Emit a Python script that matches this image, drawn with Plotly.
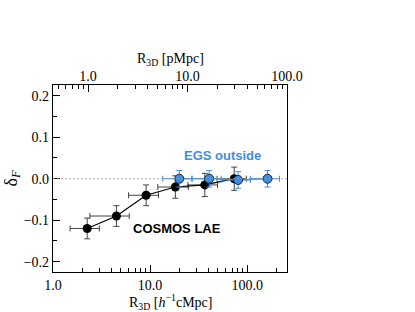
import plotly.graph_objects as go
import numpy as np

# COSMOS LAE
cos_x = [2.25, 4.5, 9.1, 18.2, 36.6, 73.5]
cos_x_lo = [1.5, 2.4, 6.0, 12.0, 24.5, 49.0]
cos_x_hi = [3.0, 6.1, 12.2, 24.8, 49.5, 98.0]
cos_y = [-0.12, -0.09, -0.04, -0.02, -0.015, 0.0]
cos_yerr = [0.025, 0.025, 0.025, 0.027, 0.028, 0.028]

# EGS outside
egs_x = [20.0, 40.6, 80.7, 162.0]
egs_x_lo = [13.5, 27.0, 54.0, 108.0]
egs_x_hi = [27.0, 54.0, 108.0, 215.0]
egs_y = [0.0, 0.0, -0.003, 0.0]
egs_yerr = [0.02, 0.02, 0.02, 0.02]

xticks = [1, 10, 100]
xticklabels = ["1.0", "10.0", "100.0"]
yticks = [-0.2, -0.1, 0.0, 0.1, 0.2]
yticklabels = ["\u22120.2", "\u22120.1", "0.0", "0.1", "0.2"]
bottom_minor = [2, 3, 4, 5, 6, 7, 8, 9, 20, 30, 40, 50, 60, 70, 80, 90, 200]
top_minor = [0.5, 0.6, 0.7, 0.8, 0.9, 2, 3, 4, 5, 6, 7, 8, 9,
             20, 30, 40, 50, 60, 70, 80, 90]

blue = "#3d8fe6"
serif = "Liberation Serif, Times New Roman, serif"

fig = go.Figure()

fig.add_shape(type="line", xref="paper", x0=0, x1=1, yref="y", y0=0, y1=0,
              line=dict(color="#999999", width=0.8, dash="2px,2px"))

fig.add_trace(go.Scatter(
    x=cos_x, y=cos_y, mode="lines+markers",
    line=dict(color="black", width=1.2),
    marker=dict(color="black", size=9),
    error_x=dict(type="data", symmetric=False,
                 array=[h - x for h, x in zip(cos_x_hi, cos_x)],
                 arrayminus=[x - l for l, x in zip(cos_x_lo, cos_x)],
                 color="#444444", thickness=1, width=3),
    error_y=dict(type="data", array=cos_yerr, color="#444444", thickness=1, width=3),
    showlegend=False))

fig.add_trace(go.Scatter(
    x=egs_x, y=egs_y, mode="lines+markers",
    line=dict(color=blue, width=1.2),
    marker=dict(color=blue, size=9, line=dict(color="#1a2a40", width=1)),
    error_x=dict(type="data", symmetric=False,
                 array=[h - x for h, x in zip(egs_x_hi, egs_x)],
                 arrayminus=[x - l for l, x in zip(egs_x_lo, egs_x)],
                 color=blue, thickness=1, width=3),
    error_y=dict(type="data", array=egs_yerr, color=blue, thickness=1, width=3),
    showlegend=False))

# dummy trace for top axis
fig.add_trace(go.Scatter(x=[1.0, 10.0], y=[None, None], xaxis="x2", showlegend=False,
                         hoverinfo="skip"))

tickfont = dict(family=serif, size=14, color="black")

fig.update_layout(
    width=415, height=312,
    margin=dict(l=53, r=128, t=85, b=40),
    paper_bgcolor="white", plot_bgcolor="white",
    xaxis=dict(type="log", range=[0, 2.41], tickvals=xticks,
               ticktext=xticklabels, ticks="inside", ticklen=7,
               tickcolor="black", showgrid=False, zeroline=False, automargin=False,
               showline=True, linecolor="black", linewidth=1.2, mirror=True,
               tickfont=tickfont,
               minor=dict(tickvals=bottom_minor, ticks="inside", ticklen=4,
                          tickcolor="black", showgrid=False)),
    xaxis2=dict(type="log", range=[-0.352, 2.0],
                overlaying="x", side="top", tickvals=xticks,
                ticktext=xticklabels, ticks="inside", ticklen=7, automargin=False,
                tickcolor="black", showgrid=False, zeroline=False,
                showline=False, tickfont=tickfont,
                minor=dict(tickvals=top_minor, ticks="inside", ticklen=4,
                           tickcolor="black", showgrid=False)),
    yaxis=dict(range=[-0.225, 0.226], tickvals=yticks,
               ticktext=yticklabels, automargin=False,
               ticks="inside", ticklen=7, tickcolor="black", showgrid=False,
               zeroline=False, showline=True, linecolor="black", linewidth=1.2,
               mirror=True, tickfont=tickfont,
               minor=dict(dtick=0.05, ticks="inside", ticklen=4, tickcolor="black",
                          showgrid=False)),
    annotations=[
        dict(text="<b>EGS outside</b>", x=1.742, y=0.055, xref="x", yref="y",
             showarrow=False, font=dict(family="Liberation Sans", size=13, color=blue),
             xanchor="center", yanchor="middle"),
        dict(text="<b>COSMOS LAE</b>", x=1.278, y=-0.121, xref="x", yref="y",
             showarrow=False, font=dict(family="Liberation Sans", size=13, color="black"),
             xanchor="center", yanchor="middle"),
        dict(text="R<sub>3D</sub> [<i>h</i><sup>\u22121</sup>cMpc]", x=0.5, y=-0.16,
             xref="paper", yref="paper", showarrow=False, yanchor="middle",
             font=dict(family=serif, size=14, color="black")),
        dict(text="R<sub>3D</sub> [pMpc]", x=0.5, y=1.134, xref="paper", yref="paper",
             showarrow=False, yanchor="middle",
             font=dict(family=serif, size=14, color="black")),
        dict(text="\u03b4<sub><i>F</i></sub>", x=-0.175, y=0.5, xref="paper",
             yref="paper", showarrow=False, textangle=-90, xanchor="center",
             yanchor="middle", font=dict(family=serif, size=18, color="black")),
    ],
)

fig.write_html("out.html", config={"displayModeBar": False},
               post_script="document.body.style.margin='0';document.body.style.padding='0';")
